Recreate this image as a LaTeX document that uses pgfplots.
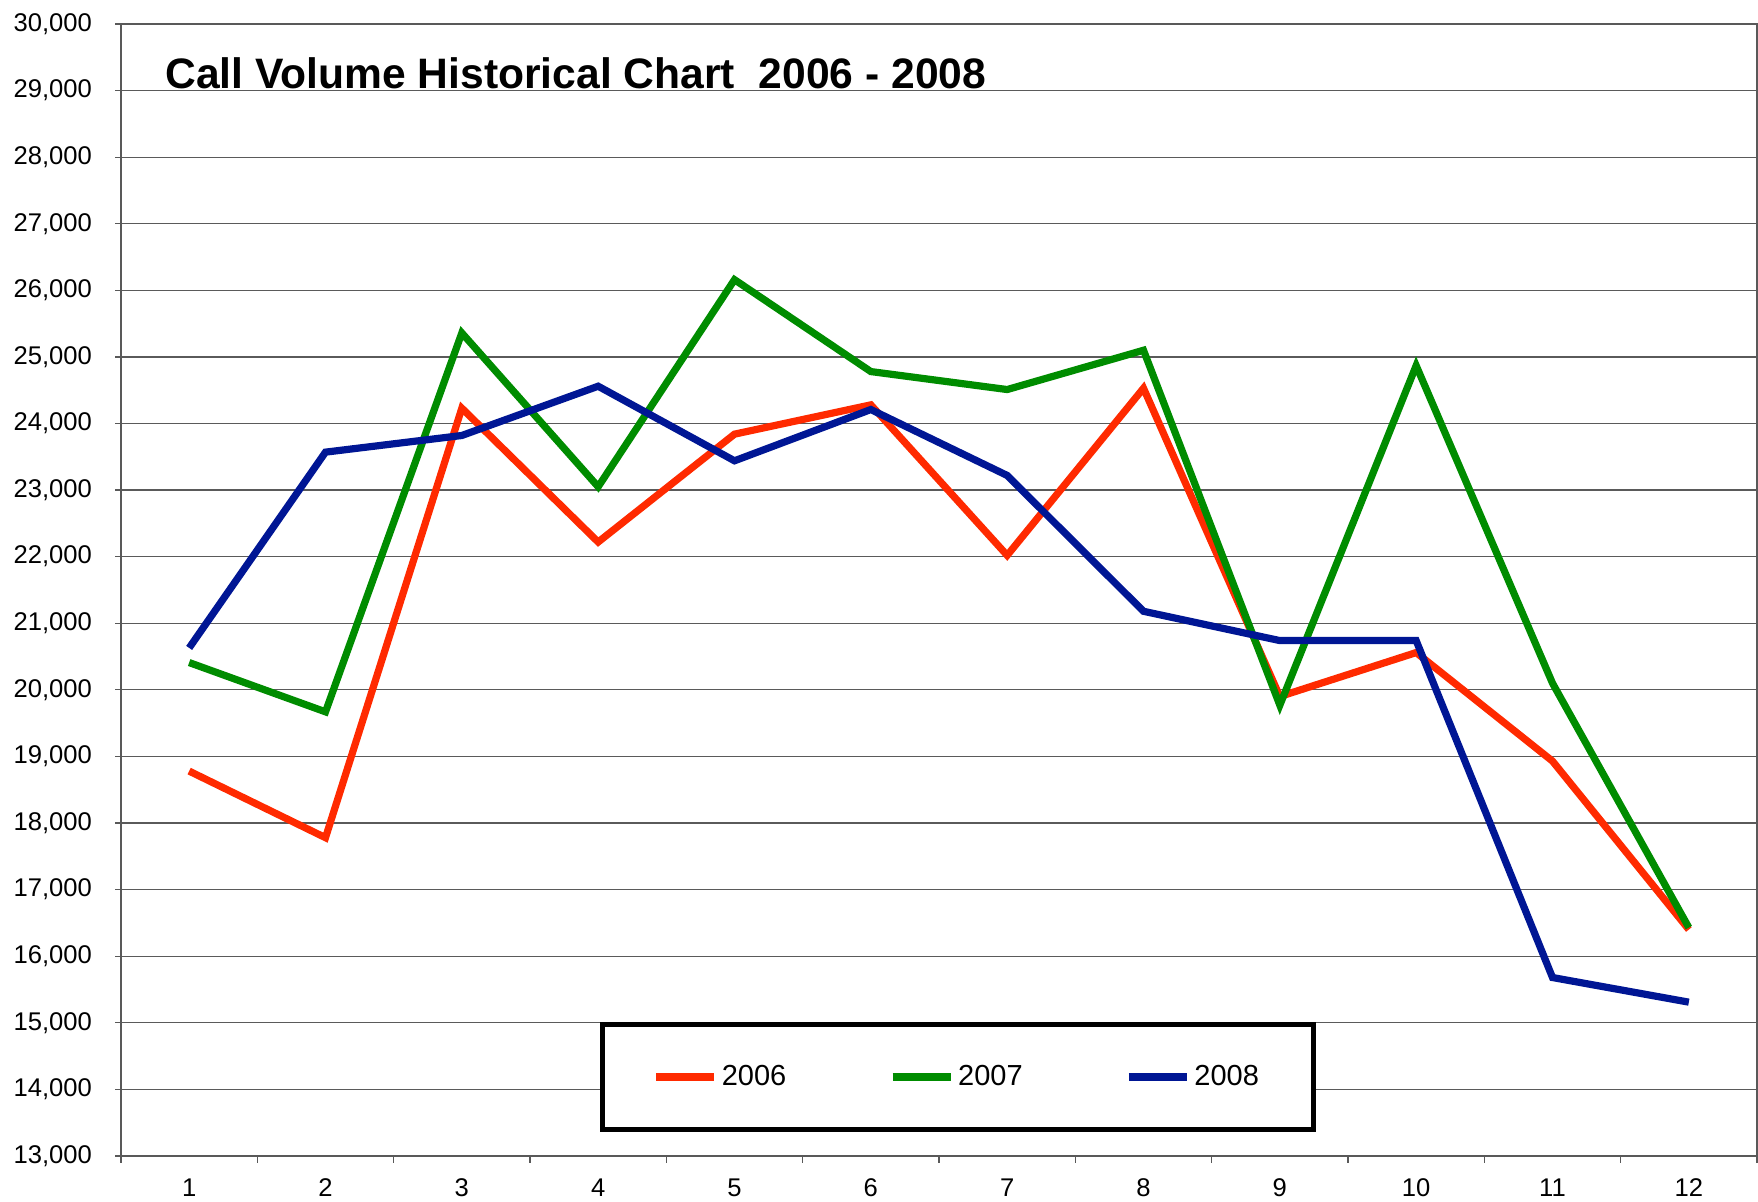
\documentclass[border=0pt]{standalone}
\usepackage{pgfplots}
\pgfplotsset{compat=1.18}
\usepackage{fontspec}
\setmainfont{Liberation Sans}
\definecolor{c06}{RGB}{255,42,0}
\definecolor{c07}{RGB}{0,140,0}
\definecolor{c08}{RGB}{0,22,148}
\definecolor{gridc}{RGB}{90,90,90}
\begin{document}
\begin{tikzpicture}
\useasboundingbox (-60.5pt,-23pt) rectangle (818.5pt,578pt);
\begin{axis}[
  at={(0,0)}, anchor=south west,
  scale only axis, width=818pt, height=566pt,
  xmin=0.5, xmax=12.5, ymin=13000, ymax=30000,
  xtick={1,...,12},
  minor xtick={0.5,1.5,...,12.5},
  xtick pos=bottom, ytick pos=left,
  major x tick style={draw=none},
  minor x tick style={gray!70!black, line width=0.6pt},
  ytick={13000,14000,...,30000},
  ymajorgrids,
  major grid style={gridc, line width=0.6pt},
  tick align=outside,
  major tick length=3pt, minor tick length=3.5pt,
  y tick style={gray!70!black, line width=0.6pt},
  axis line style={gray!70!black, line width=0.8pt},
  /pgf/number format/assume math mode=true,
  /pgf/number format/1000 sep={,},
  scaled y ticks=false,
  ticklabel style={font=\fontsize{12.8}{14}\selectfont},
  yticklabel style={xshift=-8pt},
  xticklabel style={yshift=-5pt},
  legend columns=3,
  legend style={
    at={(0.5115,0.0698)}, anchor=center,
    draw=black, line width=2.5pt, fill=white,
    font=\fontsize{14.5}{16}\selectfont,
    inner xsep=25pt, inner ysep=18.5pt,
    /tikz/every even column/.append style={column sep=49.3pt},
    nodes={inner xsep=2pt},
  },
  legend image code/.code={\draw[#1, line width=3.6pt] (0pt,0pt) -- (29pt,0pt);},
  every axis plot/.append style={line width=3.6pt, mark=none},
]
\addplot[c06] coordinates {(1,18780) (2,17780) (3,24230) (4,22220) (5,23840) (6,24280) (7,22020) (8,24530) (9,19900) (10,20560) (11,18930) (12,16400)};
\addplot[c07] coordinates {(1,20410) (2,19670) (3,25360) (4,23050) (5,26160) (6,24780) (7,24510) (8,25100) (9,19770) (10,24870) (11,20100) (12,16430)};
\addplot[c08] coordinates {(1,20630) (2,23570) (3,23820) (4,24560) (5,23440) (6,24210) (7,23220) (8,21180) (9,20740) (10,20740) (11,15680) (12,15310)};
\legend{2006,2007,2008}
\node[anchor=west, font=\fontsize{21.3}{24}\selectfont\bfseries, inner sep=0pt] at (rel axis cs:0,1) [xshift=22pt, yshift=-24.5pt] {Call Volume Historical Chart\ \ 2006 - 2008};
\end{axis}
\end{tikzpicture}
\end{document}
